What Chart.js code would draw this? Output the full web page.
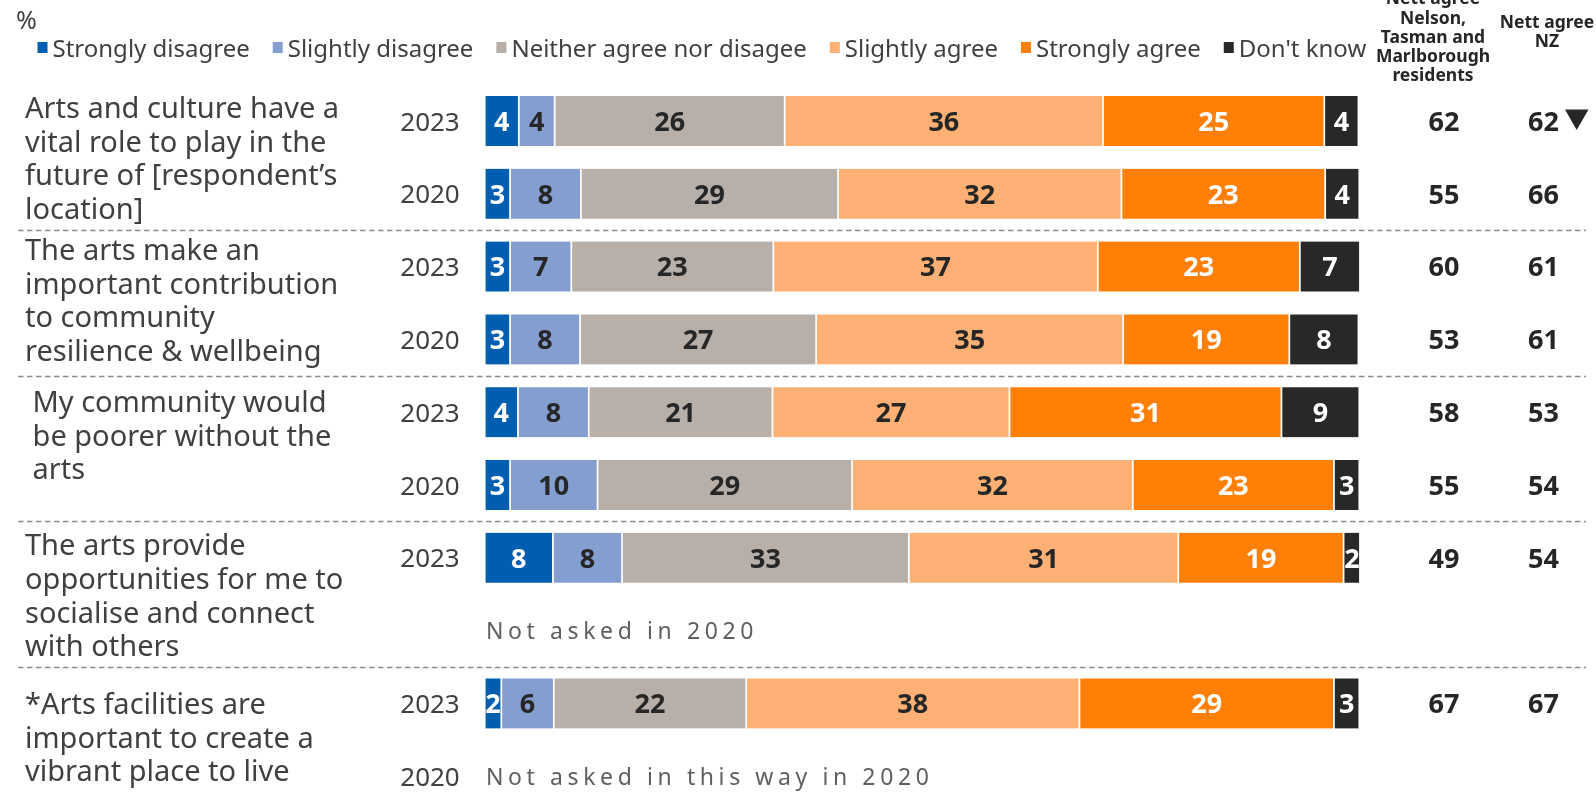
<!DOCTYPE html>
<html>
<head>
<meta charset="utf-8">
<script src="https://cdn.jsdelivr.net/npm/chart.js@4.4.1/dist/chart.umd.min.js"></script>
<style>
  html, body { margin: 0; padding: 0; background: #ffffff; overflow: hidden; }
  #wrap { position: relative; width: 1596px; height: 792px; }
</style>
</head>
<body>
<div id="wrap"><canvas id="artsChart"></canvas></div>
<script>
// series / legend
const seriesNames = ['Strongly disagree', 'Slightly disagree', 'Neither agree nor disagee', 'Slightly agree', 'Strongly agree', "Don't know"];
const seriesColors = ['#005eb0', '#849ed0', '#b8afa9', '#ffb074', '#ff7f07', '#282828'];
const labelColors = ['#ffffff', '#262626', '#262626', '#262626', '#ffffff', '#ffffff'];

// statements (two rows each: 2023, 2020)
const statements = [
  ['Arts and culture have a', 'vital role to play in the', 'future of [respondent\u2019s', 'location]'],
  ['The arts make an', 'important contribution', 'to community', 'resilience & wellbeing'],
  [' My community would', ' be poorer without the', ' arts'],
  ['The arts provide', 'opportunities for me to', 'socialise and connect', 'with others'],
  ['*Arts facilities are', 'important to create a', 'vibrant place to live']
];
const years = ['2023', '2020', '2023', '2020', '2023', '2020', '2023', '', '2023', '2020'];

// % values per row (null = not asked)
const stronglyDisagree = [3.9, 2.9, 2.9, 2.9, 3.8, 2.9, 7.8, null, 1.9, null];
const slightlyDisagree = [4.1, 8.1, 7.0, 8.0, 8.1, 10.0, 7.9, null, 6.0, null];
const neitherAgree     = [26.3, 29.4, 23.1, 27.0, 21.0, 29.1, 32.8, null, 22.0, null];
const slightlyAgree    = [36.4, 32.4, 37.1, 35.1, 27.1, 32.1, 30.8, null, 38.1, null];
const stronglyAgree    = [25.3, 23.3, 23.1, 19.0, 31.1, 23.0, 18.9, null, 29.1, null];
const dontKnow         = [3.9, 3.9, 6.9, 7.9, 8.9, 2.9, 1.9, null, 2.9, null];

// nett agree columns
const nettRegion = [62, 55, 60, 53, 58, 55, 49, null, 67, null];
const nettNZ     = [62, 66, 61, 61, 53, 54, 54, null, 67, null];
const nzMarker   = ['down', null, null, null, null, null, null, null, null, null];
const notAskedNotes = [null, null, null, null, null, null, null, 'Not asked in 2020', null, 'Not asked in this way in 2020'];

const seriesValues = [stronglyDisagree, slightlyDisagree, neitherAgree, slightlyAgree, stronglyAgree, dontKnow];

function toPoints(values) {
  return values.map((v, i) => (v === null ? null : { x: v, y: i })).filter(p => p !== null);
}

const FONT = '"Noto Sans", "Open Sans", sans-serif';
const TEXT = '#404040';
const DARK = '#262626';

const textPlugin = {
  id: 'textPlugin',
  afterDraw(chart) {
    const ctx = chart.ctx;
    const ys = chart.scales.y;
    ctx.save();
    ctx.textBaseline = 'alphabetic';

    // values inside bars
    ctx.font = 'bold 27px ' + FONT;
    ctx.textAlign = 'center';
    chart.data.datasets.forEach((ds, di) => {
      const meta = chart.getDatasetMeta(di);
      meta.data.forEach((bar, i) => {
        ctx.fillStyle = labelColors[di];
        ctx.fillText(String(Math.round(ds.data[i].x)), (bar.x + bar.base) / 2, bar.y + 9.8);
      });
    });

    // dashed separators between statements
    ctx.strokeStyle = '#8c8c8c';
    ctx.lineWidth = 1.5;
    ctx.setLineDash([5.5, 3.5]);
    [1.5, 3.5, 5.5, 7.5].forEach(v => {
      const py = Math.round(ys.getPixelForValue(v)) + 0.5;
      ctx.beginPath();
      ctx.moveTo(18, py);
      ctx.lineTo(1586, py);
      ctx.stroke();
    });
    ctx.setLineDash([]);

    // statement text
    const shift = [1, -2.5, -13, 1.6, -2];
    ctx.font = '29px ' + FONT;
    ctx.textAlign = 'left';
    ctx.fillStyle = TEXT;
    statements.forEach((lines, s) => {
      const mid = (ys.getPixelForValue(s * 2) + ys.getPixelForValue(s * 2 + 1)) / 2 + shift[s];
      const lh = 33.6;
      const first = mid - (lines.length - 1) * lh / 2;
      lines.forEach((ln, k) => ctx.fillText(ln, 25, first + k * lh + 10));
    });

    // years
    ctx.font = '26px ' + FONT;
    ctx.textAlign = 'center';
    years.forEach((yr, i) => {
      if (yr) ctx.fillText(yr, 430, ys.getPixelForValue(i) + 9.5);
    });

    // not asked notes
    ctx.font = '23px ' + FONT;
    ctx.textAlign = 'left';
    ctx.fillStyle = '#5f5f5f';
    ctx.letterSpacing = '4.6px';
    notAskedNotes.forEach((note, i) => {
      if (note) ctx.fillText(note, 486, ys.getPixelForValue(i) + 8.5);
    });
    ctx.letterSpacing = '0px';

    // nett agree columns
    ctx.font = 'bold 27px ' + FONT;
    ctx.textAlign = 'center';
    ctx.fillStyle = DARK;
    nettRegion.forEach((v, i) => {
      if (v !== null) ctx.fillText(String(v), 1444, ys.getPixelForValue(i) + 9.8);
    });
    nettNZ.forEach((v, i) => {
      if (v !== null) ctx.fillText(String(v), 1543.5, ys.getPixelForValue(i) + 9.8);
      if (nzMarker[i] === 'down') {
        const cy = ys.getPixelForValue(i);
        ctx.beginPath();
        ctx.moveTo(1565, cy - 11.5);
        ctx.lineTo(1588.5, cy - 11.5);
        ctx.lineTo(1576.7, cy + 9);
        ctx.closePath();
        ctx.fill();
      }
    });

    // column headers
    ctx.font = 'bold 17.5px ' + FONT;
    ctx.fillStyle = DARK;
    ['Nett agree', 'Nelson,', 'Tasman and', 'Marlborough', 'residents'].forEach((t, k) => {
      ctx.fillText(t, 1433, -1.7 + k * 19.2 + 6);
    });
    ['Nett agree', 'NZ'].forEach((t, k) => {
      ctx.fillText(t, 1547, 22 + k * 19.2 + 6);
    });

    // % and legend
    ctx.font = '25px ' + FONT;
    ctx.textAlign = 'left';
    ctx.fillStyle = TEXT;
    ctx.fillText('%', 16, 29);

    ctx.font = '24px ' + FONT;
    let lx = 37.5;
    const ly = 48;
    seriesNames.forEach((name, k) => {
      ctx.fillStyle = seriesColors[k];
      ctx.fillRect(lx, ly - 6, 10, 11);
      ctx.fillStyle = TEXT;
      ctx.fillText(name, lx + 15, ly + 8.5);
      lx += 15 + ctx.measureText(name).width + 23;
    });

    ctx.restore();
  }
};

const ctx = document.getElementById('artsChart').getContext('2d');
new Chart(ctx, {
  type: 'bar',
  data: {
    datasets: seriesNames.map((name, k) => ({
      label: name,
      data: toPoints(seriesValues[k]),
      backgroundColor: seriesColors[k],
      borderColor: '#ffffff',
      borderWidth: { left: 1.2, right: 1.2, top: 0, bottom: 0 },
      borderSkipped: false,
      barThickness: 50
    }))
  },
  options: {
    indexAxis: 'y',
    responsive: true,
    maintainAspectRatio: false,
    animation: false,
    layout: { padding: { left: 484.7, right: 236.7, top: 84.6, bottom: 0 } },
    plugins: {
      legend: { display: false },
      tooltip: { enabled: false }
    },
    scales: {
      x: { type: 'linear', stacked: true, min: 0, max: 100, offset: false, display: false },
      y: { type: 'linear', stacked: true, min: -0.5, max: 9.217, reverse: true, offset: false, grace: 0, display: false }
    }
  },
  plugins: [textPlugin]
});
</script>
</body>
</html>
